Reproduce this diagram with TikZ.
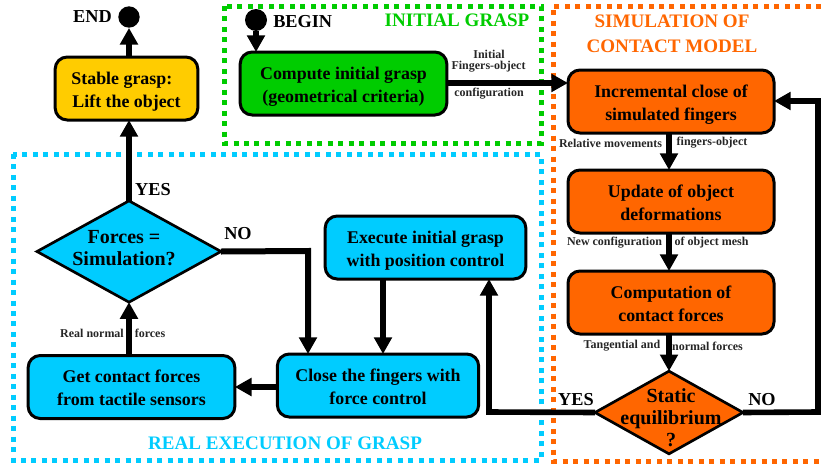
\documentclass[tikz,border=0pt]{standalone}
\usepackage{fontspec}
\setmainfont{Liberation Serif}
\usetikzlibrary{shapes.geometric,arrows.meta,calc}
\definecolor{cblue}{RGB}{0,204,255}
\definecolor{cgreen}{RGB}{0,204,0}
\definecolor{corange}{RGB}{255,102,0}
\definecolor{cyellow}{RGB}{255,204,0}
\newcommand{\firstline}{\rule{0pt}{16pt}}
\tikzset{
  x=0.75pt,y=-0.75pt,
  bx/.style={draw=black,line width=2.25pt,rounded corners=9pt,minimum height=47.25pt,inner sep=0pt,outer sep=0pt,align=center,
    font=\fontsize{13.4}{17.4}\selectfont\bfseries},
  dm/.style={draw=black,line width=2pt,diamond,inner sep=0pt,outer sep=0pt},
  dt/.style={align=center,inner sep=0pt,font=\fontsize{15}{16.5}\selectfont\bfseries},
  lab/.style={inner sep=0pt,font=\fontsize{9}{10}\selectfont\bfseries,text=black!85},
  yn/.style={inner sep=0pt,font=\fontsize{13.7}{15}\selectfont\bfseries},
  ttl/.style={inner sep=0pt,align=center,font=\fontsize{14.3}{19}\selectfont\bfseries},
  fr/.style={line width=3.75pt,dash pattern=on 3.75pt off 4.1pt},
  ar/.style={line width=4.2pt,-{Triangle[length=12.5pt,width=13pt]},shorten >=0pt},
  dot/.style={circle,fill=black,inner sep=0pt,minimum size=16.5pt},
}
\begin{document}
\begin{tikzpicture}
\useasboundingbox (0,0) rectangle (821,468);
% frames
\draw[fr,cgreen] (224,6) rectangle (541,143);
\draw[fr,cblue] (13,154) rectangle (541,460);
\draw[fr,corange] (821,6) -- (553,6) -- (553,461) -- (821,461);
% titles
\node[ttl,text=cgreen] (t1) at (457,20) {INITIAL GRASP};
\node[ttl,text=corange] (t2) at (672,34) {SIMULATION OF\\CONTACT MODEL};
\node[ttl,text=cblue] (t3) at (285,443) {REAL EXECUTION OF GRASP};
% boxes
\node[bx,fill=cyellow,minimum width=107pt] (stable) at (126.5,88.5) {\firstline Stable grasp:\kern7pt\\\strut Lift the object};
\node[bx,fill=cgreen,minimum width=155pt] (compute) at (343.5,83.5) {\firstline Compute initial grasp\\\strut (geometrical criteria)};
\node[bx,fill=corange,minimum width=154.5pt] (incr) at (671,101.5) {\firstline Incremental close of\\\strut simulated fingers};
\node[bx,fill=corange,minimum width=154.5pt] (upd) at (671,201.5) {\firstline Update of object\\\strut deformations};
\node[bx,fill=corange,minimum width=154.5pt] (comp) at (671,302.5) {\firstline Computation of\\\strut contact forces};
\node[bx,fill=cblue,minimum width=150.5pt] (exec) at (425.5,247.5) {\firstline Execute initial grasp\\\strut with position control};
\node[bx,fill=cblue,minimum width=151pt] (close) at (378,385.5) {\firstline Close the fingers with\\\strut force control};
\node[bx,fill=cblue,minimum width=155pt] (get) at (131.5,387) {\firstline Get contact forces\\\strut from tactile sensors};
\node[dm,fill=cblue,minimum width=138pt,minimum height=76pt] (forces) at (129,251.5) {};
\node[dm,fill=corange,minimum width=111pt,minimum height=62pt] (stat) at (669,412.5) {};
\node[dt] (ftext) at (124,248.5) {Forces =\\Simulation?};
\node[dt] (stext) at (671,418) {Static\\equilibrium\\?};
% terminals
\node[dot,minimum size=16pt] (endc) at (129,17) {};
\node[dot] (begin) at (256,20) {};
\node[yn,anchor=east] (endl) at (112,17) {END};
\node[yn,anchor=west] (beginl) at (273,22) {BEGIN};
% connectors
\coordinate (noc) at (308,251);
\coordinate (yesc) at (489,412);
\coordinate (nocc) at (818,412);
\coordinate (nocd) at (818,101);
\draw[ar] (stable.north -| endc) -- (endc.south);
\draw[ar] (forces.north) -- (stable.south -| forces.north);
\draw[ar] (get.north -| forces.south) -- (forces.south);
\draw[ar] (begin.south) -- (compute.north -| begin.south);
\draw[ar,line width=4.5pt] (forces.east) -- (noc) -- (close.north -| noc);
\draw[ar] (exec.south -| 383,0) -- (close.north -| 383,0);
\draw[ar] (close.west |- 0,387) -- (get.east |- 0,387);
\draw[ar] (compute.east |- 0,83) -- (incr.west |- 0,83);
\draw[ar] (incr.south -| 669,0) -- (upd.north -| 669,0);
\draw[ar] (upd.south -| 669,0) -- (comp.north -| 669,0);
\draw[ar] (comp.south -| stat.north) -- (stat.north);
\draw[ar] (stat.west) -- (yesc) -- (exec.south -| yesc);
\draw[ar] (stat.east) -- (nocc) -- (nocd) -- (incr.east |- nocd);
% labels
\node[yn] (yes1) at (153,190) {YES};
\node[yn] (no1) at (238,234) {NO};
\node[yn] (yes2) at (576,400) {YES};
\node[yn] (no2) at (762,400) {NO};
\node[lab] (l1) at (489,54) {Initial};
\node[lab] (l2) at (488.5,67) {Fingers-object};
\node[lab] (l3) at (489,94) {configuration};
\node[lab] (l4) at (610.5,143) {Relative movements};
\node[lab] (l5) at (712,143) {fingers-object};
\node[lab] (l6) at (614.5,243) {New configuration};
\node[lab] (l7) at (711.5,243) {of object mesh};
\node[lab] (l8) at (622,346) {Tangential and};
\node[lab] (l9) at (707.5,346) {normal forces};
\node[lab] (l10) at (92,333) {Real normal};
\node[lab] (l11) at (150,333) {forces};
\end{tikzpicture}
\end{document}
